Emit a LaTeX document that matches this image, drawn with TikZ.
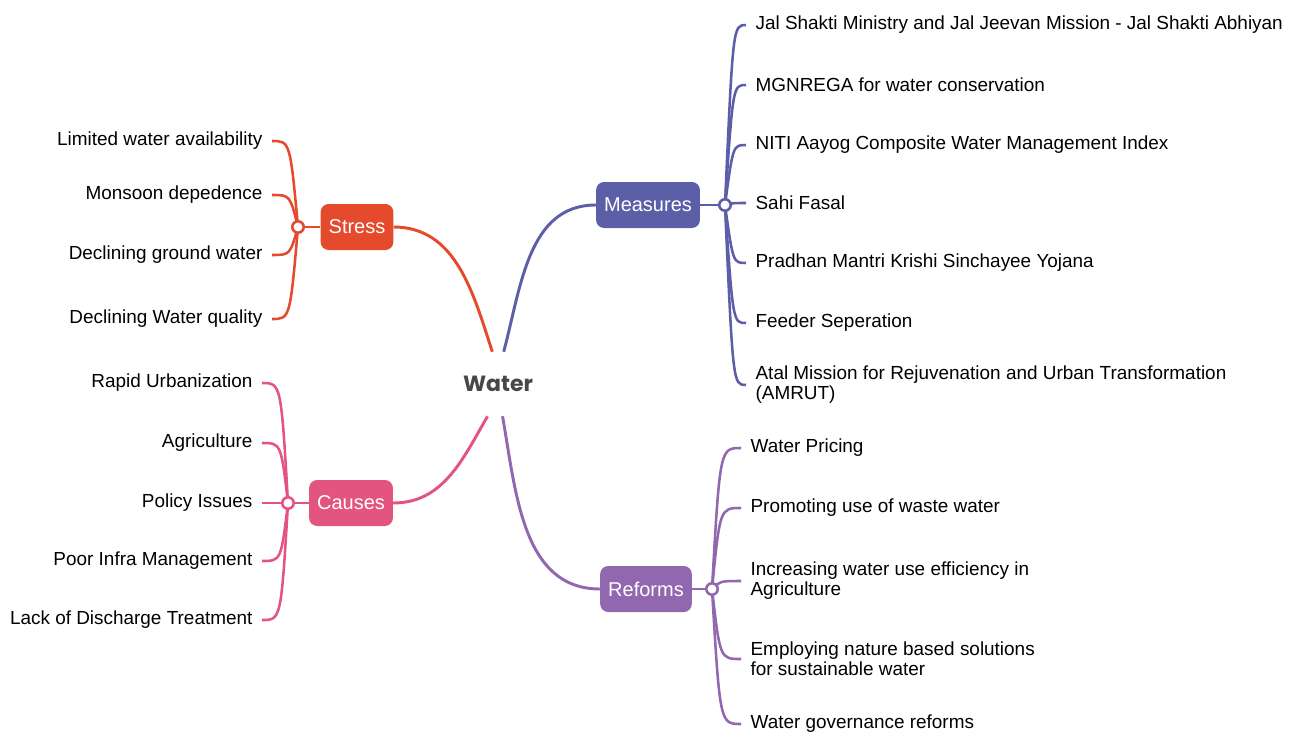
\documentclass[tikz,border=0pt]{standalone}
\usepackage{fontspec}
\setmainfont{Liberation Sans}
\newfontfamily\hubfont{Poppins}
\definecolor{stresscol}{RGB}{229,74,44}
\definecolor{causescol}{RGB}{228,84,128}
\definecolor{measurecol}{RGB}{92,94,168}
\definecolor{reformcol}{RGB}{145,103,176}
\definecolor{watercol}{RGB}{72,72,72}
\tikzset{
  topic/.style={fill=#1, text=white, rounded corners=6pt, minimum height=34.5pt,
    inner xsep=6pt, font=\fontsize{15}{18}\selectfont},
  leaf/.style={inner xsep=7pt, inner ysep=2pt, font=\fontsize{14.2}{15}\selectfont},
  hub/.style={circle, draw=#1, fill=white, line width=1.9pt, minimum size=8.6pt, inner sep=0pt},
  branch/.style={#1, line width=2.2pt},
  twig/.style={#1, line width=1.9pt},
}
\begin{document}
\begin{tikzpicture}[x=0.75pt, y=-0.75pt]
  \useasboundingbox (0,0) rectangle (1289,739);
  \fill[white] (0,0) rectangle (1289,739);

  % Central topic
  \node[font=\hubfont\fontsize{16.5}{18}\selectfont\bfseries, text=watercol,
    minimum width=60pt, minimum height=48pt] (water) at (498,384) {Water};

  % Stress
  \node[topic=stresscol] (stress) at (357,227) {Stress};
  \coordinate (hS) at (298,227);
  \coordinate (spS) at (290,227);
  \foreach \i/\y/\txt in {1/141/Limited water availability,
                          2/195/Monsoon depedence,
                          3/255/Declining ground water,
                          4/319/Declining Water quality} {
    \node[leaf, anchor=east] (s\i) at (272,\y) {\txt};
    \draw[twig=stresscol] (hS) .. controls (spS |- s\i.east) .. (s\i.east);
  }
  \draw[branch=stresscol] (hS) -- (stress.west);
  \node[hub=stresscol] (hubS) at (hS) {};
  \draw[branch=stresscol] (stress.east) to[out=0, in=108] (water.100);

  % Causes
  \node[topic=causescol] (causes) at (351,503) {Causes};
  \coordinate (hC) at (288,503);
  \coordinate (spC) at (281,503);
  \foreach \i/\y/\txt in {1/383/Rapid Urbanization,
                          2/443/Agriculture,
                          3/503/Policy Issues\hspace{16pt},
                          4/561/Poor Infra Management\hspace{14pt},
                          5/620/Lack of Discharge Treatment} {
    \node[leaf, anchor=east] (c\i) at (262,\y) {\txt};
    \draw[twig=causescol] (hC) .. controls (spC |- c\i.east) .. (c\i.east);
  }
  \draw[branch=causescol] (hC) -- (causes.west);
  \node[hub=causescol] (hubC) at (hC) {};
  \draw[branch=causescol] (causes.east) to[out=0, in=240] (water.252);

  % Measures
  \node[topic=measurecol] (measures) at (648,205) {Measures};
  \coordinate (hM) at (725,205);
  \coordinate (spM) at (733,205);
  \foreach \i/\y/\txt in {1/25/Jal Shakti Ministry and Jal Jeevan Mission - Jal Shakti Abhiyan,
                          2/85/MGNREGA for water conservation,
                          3/145/NITI Aayog Composite Water Management Index,
                          4/203/Sahi Fasal,
                          5/263/Pradhan Mantri Krishi Sinchayee Yojana,
                          6/323/Feeder Seperation,
                          7/385/{Atal Mission for Rejuvenation and Urban Transformation\\(AMRUT)}} {
    \node[leaf, anchor=west, align=left] (m\i) at (746,\y) {\txt};
    \draw[twig=measurecol] (hM) .. controls (spM |- m\i.west) .. (m\i.west);
  }
  \draw[branch=measurecol] (hM) -- (measures.east);
  \node[hub=measurecol] (hubM) at (hM) {};
  \draw[branch=measurecol] (water.80) to[out=75, in=180] (measures.west);

  % Reforms
  \node[topic=reformcol] (reforms) at (646,589) {Reforms};
  \coordinate (hR) at (712,589);
  \coordinate (spR) at (720,589);
  \foreach \i/\y/\txt in {1/448/Water Pricing,
                          2/508/Promoting use of waste water,
                          3/581/{Increasing water use efficiency in\\Agriculture},
                          4/659/{Employing nature based solutions\\for sustainable water},
                          5/724/Water governance reforms} {
    \node[leaf, anchor=west, align=left] (r\i) at (741,\y) {\txt};
    \draw[twig=reformcol] (hR) .. controls (spR |- r\i.west) .. (r\i.west);
  }
  \draw[branch=reformcol] (hR) -- (reforms.east);
  \node[hub=reformcol] (hubR) at (hR) {};
  \draw[branch=reformcol] (water.278) to[out=280, in=180] (reforms.west);
\end{tikzpicture}
\end{document}
